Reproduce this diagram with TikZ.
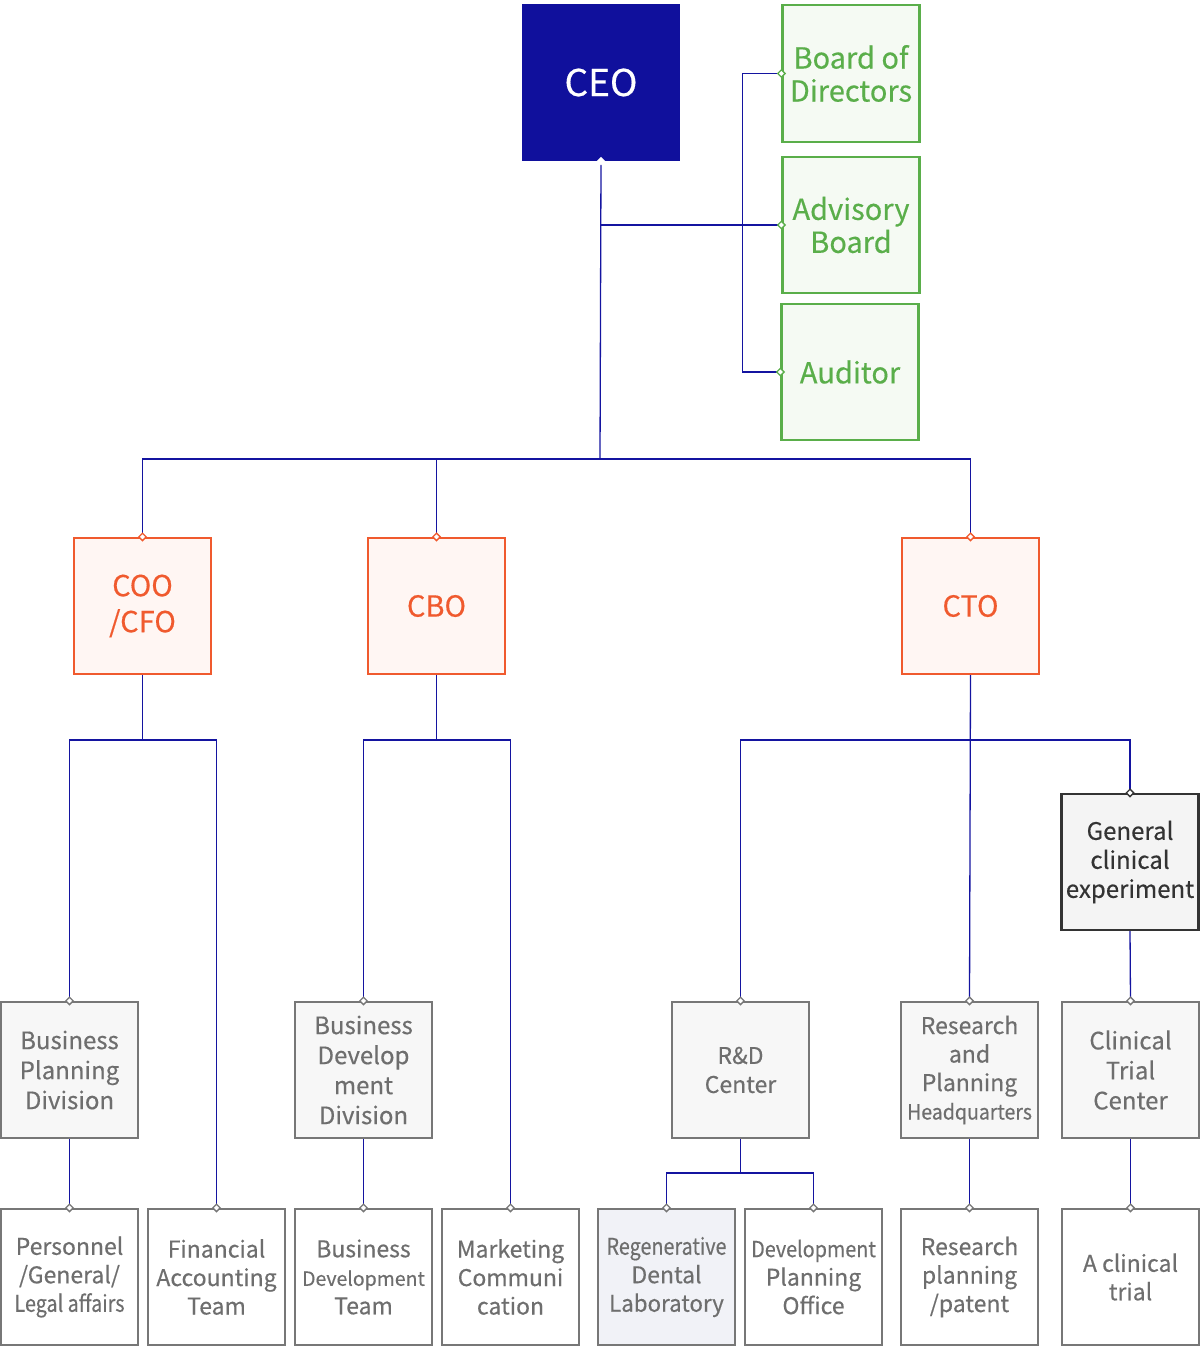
\documentclass[tikz,border=0pt]{standalone}
\usepackage{fontspec}
\setmainfont{Noto Sans CJK KR}[FakeBold=0.35]
\usetikzlibrary{shapes.geometric}
\definecolor{ceoblue}{HTML}{10109C}
\definecolor{linkblue}{HTML}{1414A0}
\definecolor{grn}{HTML}{5AAE4A}
\definecolor{grnfill}{HTML}{F5FAF3}
\definecolor{orn}{HTML}{F05A2E}
\definecolor{ornfill}{HTML}{FFF6F3}
\definecolor{gborder}{HTML}{777777}
\definecolor{gfill}{HTML}{F7F7F7}
\definecolor{gtext}{HTML}{6E6E6E}
\definecolor{dk}{HTML}{333333}
\definecolor{dkfill}{HTML}{F4F4F4}
\definecolor{regfill}{HTML}{F1F2F7}
\tikzset{
  boxbase/.style={rectangle, inner sep=0pt, align=center, line width=2.2pt,
    minimum width=137pt, minimum height=136pt},
  greenbox/.style={boxbase, draw=grn, fill=grnfill, text=grn,
    font=\fontsize{29}{33}\selectfont},
  orangebox/.style={boxbase, draw=orn, fill=ornfill, text=orn,
    font=\fontsize{29}{36}\selectfont},
  graybox/.style={boxbase, draw=gborder, fill=gfill, text=gtext,
    font=\fontsize{24}{30}\selectfont},
  whitebox/.style={boxbase, draw=gborder, fill=white, text=gtext,
    font=\fontsize{23}{28.5}\selectfont},
  darkbox/.style={boxbase, draw=dk, fill=dkfill, text=dk,
    font=\fontsize{24}{29}\selectfont},
  link/.style={draw=linkblue, line width=1.3pt},
  dmd/.style={diamond, inner sep=0pt, minimum size=8pt, fill=white, line width=1.3pt},
}
\newcommand{\cnd}[2][0.86]{\scalebox{#1}[1]{#2}}
\begin{document}
\begin{tikzpicture}[x=1pt,y=-1pt]
\useasboundingbox (0,0) rectangle (1200,1351);
% top
\node[rectangle, fill=ceoblue, text=white, minimum width=158pt, minimum height=157pt,
  inner sep=0pt, font=\fontsize{37}{40}\selectfont] (ceo) at (601,82.5) {CEO};
\node[greenbox, minimum height=137pt] (bod) at (851,73.5) {Board of\\Directors};
\node[greenbox] (ab) at (851,225) {Advisory\\Board};
\node[greenbox] (aud) at (850,372) {Auditor};
% C-level
\node[orangebox] (coo) at (142.5,606) {COO\\/CFO};
\node[orangebox] (cbo) at (436.5,606) {CBO};
\node[orangebox] (cto) at (970.5,606) {CTO};
\node[darkbox] (gce) at (1130,862) {General\\clinical\\experiment};
% row 3
\node[graybox] (bpd) at (69.5,1070) {Business\\Planning\\Division};
\node[graybox] (bdd) at (363.5,1070) {Business\\Develop\\ment\\Division};
\node[graybox, font=\fontsize{23}{29}\selectfont] (rd) at (740.5,1070) {R\&D\\Center};
\node[graybox, font=\fontsize{23}{28.5}\selectfont] (rphq) at (969.5,1070) {Research\\and\\Planning\\{\fontsize{21}{24}\selectfont\cnd[0.93]{Headquarters}}};
\node[graybox] (ctc) at (1130.5,1070) {Clinical\\Trial\\Center};
% row 4
\node[whitebox] (pers) at (69.5,1277) {Personnel\\/General/\\\cnd{Legal affairs}};
\node[whitebox] (fin) at (216.5,1277) {Financial\\Accounting\\Team};
\node[whitebox] (bdt) at (363.5,1277) {Business\\{\fontsize{19.5}{24}\selectfont Development}\\Team};
\node[whitebox] (mkt) at (510.5,1277) {Marketing\\Communi\\cation};
\node[whitebox, fill=regfill] (reg) at (666.5,1277) {\cnd{Regenerative}\\Dental\\\cnd[0.97]{Laboratory}};
\node[whitebox] (dpo) at (813.5,1277) {{\fontsize{22}{24}\selectfont\cnd[0.9]{Development}}\\Planning\\Office};
\node[whitebox] (rpp) at (969.5,1277) {Research\\planning\\/patent};
\node[whitebox] (act) at (1130.5,1277) {A clinical\\trial};
% junction coordinates
\coordinate (bus) at (600,459);
\coordinate (j1) at (142.5,740);
\coordinate (j2) at (436.5,740);
\coordinate (j3) at (969.5,740);
\coordinate (j4) at (740.5,1173);
% connectors
\draw[link] (ceo.south) -- (bus);
\draw[link] (ceo.south |- ab.west) -- (ab.west);
\draw[link] (bod.west) -- ++(-39,0) |- (aud.west);
\draw[link] (coo.north) |- (bus) -| (cto.north);
\draw[link] (cbo.north) -- (cbo.north |- bus);
\draw[link] (coo.south) -- (j1);
\draw[link] (bpd.north) |- (j1) -| (fin.north);
\draw[link] (cbo.south) -- (j2);
\draw[link] (bdd.north) |- (j2) -| (mkt.north);
\draw[link] (cto.south) -- (rphq.north);
\draw[link] (rd.north) |- (j3) -| (gce.north);
\draw[link] (gce.south) -- (ctc.north);
\draw[link] (bpd.south) -- (pers.north);
\draw[link] (bdd.south) -- (bdt.north);
\draw[link] (rd.south) -- (j4);
\draw[link] (reg.north) |- (j4) -| (dpo.north);
\draw[link] (rphq.south) -- (rpp.north);
\draw[link] (ctc.south) -- (act.north);
% diamonds
\node[dmd, minimum size=9pt] at (ceo.south) {};
\foreach \n in {bod,ab,aud} \node[dmd, draw=grn] at (\n.west) {};
\foreach \n in {coo,cbo,cto} \node[dmd, draw=orn] at (\n.north) {};
\node[dmd, draw=dk] at (gce.north) {};
\foreach \n in {bpd,bdd,rd,rphq,ctc,pers,fin,bdt,mkt,reg,dpo,rpp,act}
  \node[dmd, draw=gborder] at (\n.north) {};
\end{tikzpicture}
\end{document}
